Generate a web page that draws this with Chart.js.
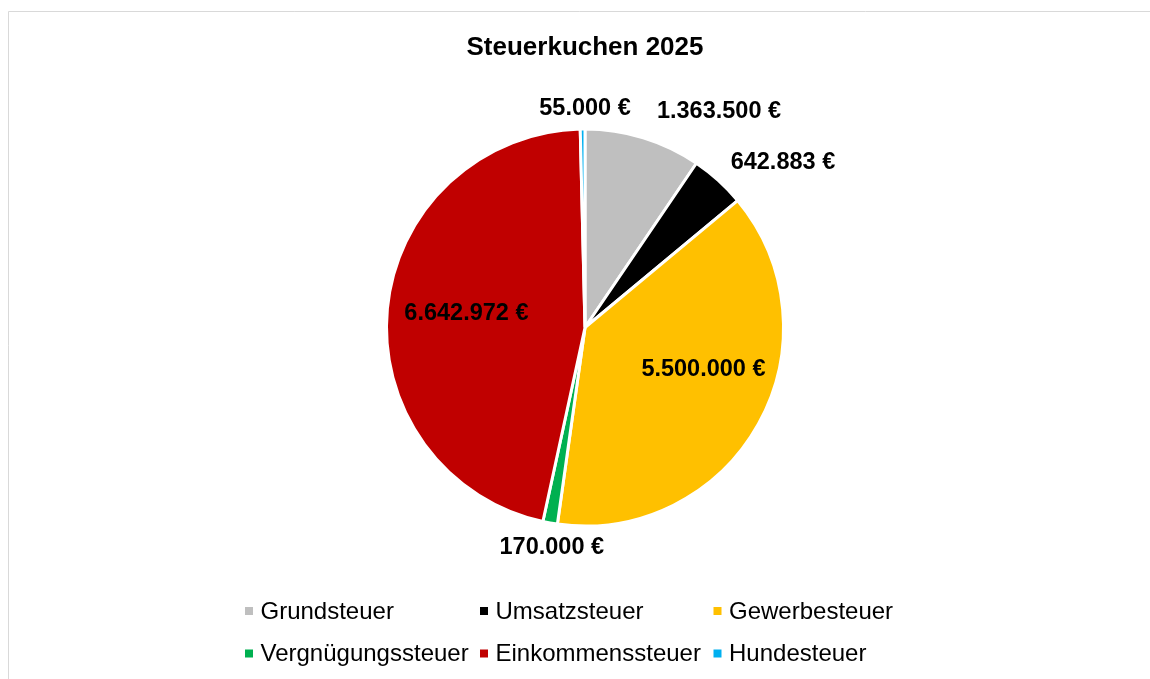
<!DOCTYPE html>
<html>
<head>
<meta charset="utf-8">
<script src="https://cdn.jsdelivr.net/npm/chart.js@4"></script>
<style>
html,body{margin:0;padding:0;background:#fff;}
#wrap{position:relative;width:1150px;height:679px;}
</style>
</head>
<body>
<div id="wrap"><canvas id="c"></canvas></div>
<script>
const chartTitle = 'Steuerkuchen 2025';
const categories = ['Grundsteuer', 'Umsatzsteuer', 'Gewerbesteuer', 'Vergnügungssteuer', 'Einkommenssteuer', 'Hundesteuer'];
const values = [1363500, 642883, 5500000, 170000, 6642972, 55000];
const colors = ['#BFBFBF', '#000000', '#FFC000', '#00B050', '#C00000', '#00B0F0'];

const FONT = "'Liberation Sans', Arial, sans-serif";

function fmtEuro(v) {
  return String(v).replace(/\B(?=(\d{3})+(?!\d))/g, '.') + ' €';
}

// label placement: angle (deg clockwise from top) and distance as a fraction of the radius
const labelPlacement = [
  {a: 31.7, r: 1.275},
  {a: 50.1, r: 1.29},
  {a: 108.9, r: 0.626},
  {a: 188.6, r: 1.11},
  {a: 277.4, r: 0.598},
  {a: 0.0, r: 1.10}
];

const framePlugin = {
  id: 'frame',
  beforeDraw(chart) {
    const ctx = chart.ctx;
    ctx.save();
    ctx.fillStyle = '#fff';
    ctx.fillRect(0, 0, chart.width, chart.height);
    ctx.strokeStyle = '#D9D9D9';
    ctx.lineWidth = 1;
    ctx.beginPath();
    ctx.moveTo(8.5, chart.height + 2);
    ctx.lineTo(8.5, 11.5);
    ctx.lineTo(chart.width + 2, 11.5);
    ctx.stroke();
    ctx.restore();
  }
};

const labelPlugin = {
  id: 'sliceLabels',
  afterDatasetsDraw(chart) {
    const ctx = chart.ctx;
    const meta = chart.getDatasetMeta(0);
    ctx.save();
    ctx.font = 'bold 23.5px ' + FONT;
    ctx.fillStyle = '#000';
    ctx.textAlign = 'center';
    ctx.textBaseline = 'middle';
    meta.data.forEach((arc, i) => {
      const p = labelPlacement[i];
      const R = arc.outerRadius + 1.5;
      const ang = p.a * Math.PI / 180;
      const x = arc.x + Math.sin(ang) * R * p.r;
      const y = arc.y - Math.cos(ang) * R * p.r;
      ctx.fillText(fmtEuro(values[i]), x, y + 1);
    });
    ctx.restore();
  }
};

const legendPlugin = {
  id: 'gridLegend',
  afterDraw(chart) {
    const ctx = chart.ctx;
    const cols = 3;
    const colX = [260.5, 495.5, 729];
    const rowY = [611, 653.5];
    ctx.save();
    ctx.font = '24px ' + FONT;
    ctx.textBaseline = 'middle';
    ctx.textAlign = 'left';
    categories.forEach((name, i) => {
      const cx = colX[i % cols];
      const cy = rowY[Math.floor(i / cols)];
      ctx.fillStyle = colors[i];
      ctx.fillRect(cx - 15.5, cy - 4, 8, 8);
      ctx.fillStyle = '#000';
      ctx.fillText(name, cx, cy + 1);
    });
    ctx.restore();
  }
};

new Chart(document.getElementById('c'), {
  type: 'pie',
  data: {
    labels: categories,
    datasets: [{
      data: values,
      backgroundColor: colors,
      borderColor: '#FFFFFF',
      borderWidth: 3,
      hoverOffset: 0,
      offset: 0
    }]
  },
  options: {
    responsive: true,
    maintainAspectRatio: false,
    animation: false,
    events: [],
    layout: {padding: {top: 32, bottom: 151.5, left: 20, right: 0}},
    plugins: {
      legend: {display: false},
      tooltip: {enabled: false},
      title: {
        display: true,
        text: chartTitle,
        color: '#000',
        font: {family: FONT, size: 26, weight: 'bold', lineHeight: 1.2},
        padding: {top: 0, bottom: 64.3}
      }
    }
  },
  plugins: [framePlugin, labelPlugin, legendPlugin]
});
</script>
</body>
</html>
